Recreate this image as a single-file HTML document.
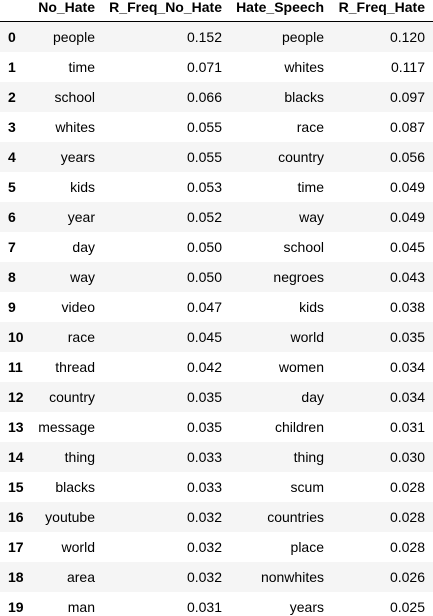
<!DOCTYPE html>
<html><head><meta charset="utf-8">
<style>
html,body{margin:0;padding:0;background:#fff;}
body{width:433px;height:616px;position:relative;overflow:hidden;font-family:"Liberation Sans",Arial,sans-serif;font-size:14px;color:#000;}
.c{position:absolute;white-space:nowrap;line-height:16px;}
.r{text-align:right;}
.h{font-weight:bold;}
.band{position:absolute;left:0;width:433px;height:30px;background:#f5f5f5;}
#hline{position:absolute;left:0;top:21px;width:433px;height:1px;background:#000;}
</style></head><body>
<div id="tbl"></div>
<script>
const noHate=["people","time","school","whites","years","kids","year","day","way","video","race","thread","country","message","thing","blacks","youtube","world","area","man"];
const freqNoHate=["0.152","0.071","0.066","0.055","0.055","0.053","0.052","0.050","0.050","0.047","0.045","0.042","0.035","0.035","0.033","0.033","0.032","0.032","0.032","0.031"];
const hateSpeech=["people","whites","blacks","race","country","time","way","school","negroes","kids","world","women","day","children","thing","scum","countries","place","nonwhites","years"];
const freqHate=["0.120","0.117","0.097","0.087","0.056","0.049","0.049","0.045","0.043","0.038","0.035","0.034","0.034","0.031","0.030","0.028","0.028","0.028","0.026","0.025"];
const headers=["No_Hate","R_Freq_No_Hate","Hate_Speech","R_Freq_Hate"];
const rights=[95,222,324,425];
const t=document.getElementById('tbl');
function cell(txt,right,top,cls,name){
  const d=document.createElement('div');
  d.className='c '+cls;
  d.textContent=txt;
  d.style.top=top+'px';
  if(right!==null){d.style.right=(433-right)+'px';}else{d.style.left='8px';}
  
  
  t.appendChild(d);
}
headers.forEach((h,j)=>cell(h,rights[j],-1,'r h','column-header'));
const hl=document.createElement('div');hl.id='hline';


t.appendChild(hl);
const cols=[noHate,freqNoHate,hateSpeech,freqHate];
for(let i=0;i<noHate.length;i++){
  const y=22+30*i;
  if(i%2===0){const b=document.createElement('div');b.className='band';b.style.top=y+'px';
    
    
    t.appendChild(b);}
  cell(String(i),null,y+7,'h','row-index');
  cols.forEach((c,j)=>cell(c[i],rights[j],y+7,'r','table-cell'));
}
</script>
</body></html>
